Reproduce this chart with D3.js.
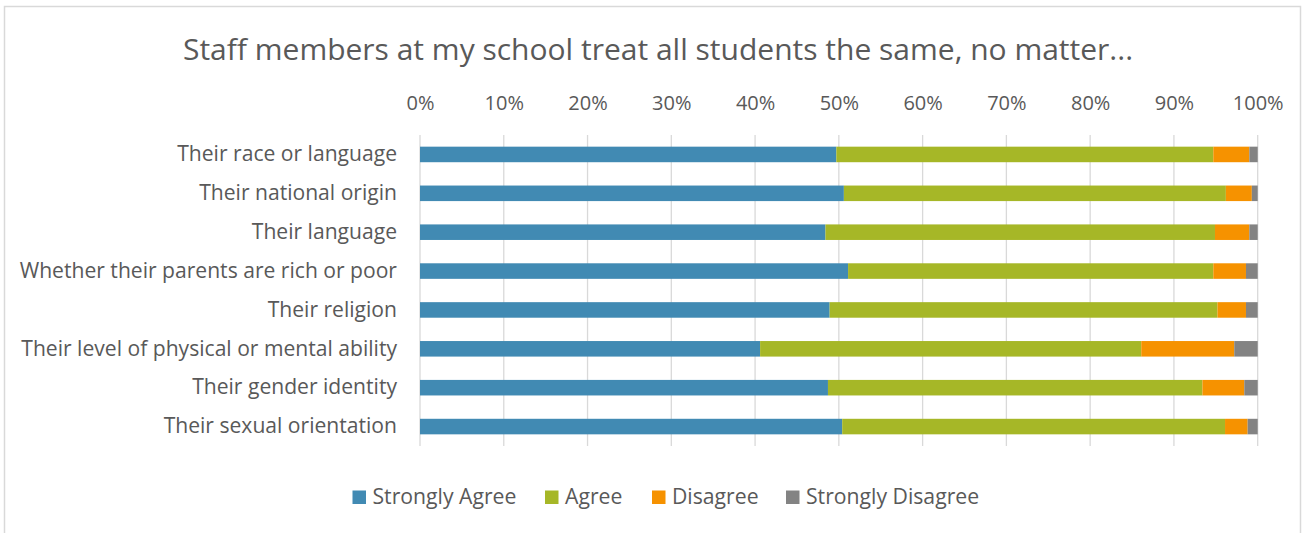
<!DOCTYPE html>
<html><head><meta charset="utf-8">
<script src="https://cdn.jsdelivr.net/npm/d3@7"></script>
<style>
html,body{margin:0;padding:0;background:#fff;}
text{font-family:"Open Sans",sans-serif;fill:#595959;}
</style></head>
<body><svg id="c" width="1305" height="533"></svg>
<script>
const categories = ["Their race or language","Their national origin","Their language","Whether their parents are rich or poor","Their religion","Their level of physical or mental ability","Their gender identity","Their sexual orientation"];
const seriesNames = ["Strongly Agree","Agree","Disagree","Strongly Disagree"];
const stronglyAgree = [49.7,50.6,48.4,51.1,48.9,40.6,48.7,50.4];
const agree = [45.0,45.6,46.5,43.6,46.3,45.5,44.7,45.7];
const disagree = [4.3,3.1,4.1,3.9,3.4,11.1,5.0,2.7];
const stronglyDisagree = [1.0,0.7,1.0,1.4,1.4,2.8,1.6,1.2];
const colors = ["#418AB3","#A6B727","#F69200","#838383"];
const tickValues = [0,10,20,30,40,50,60,70,80,90,100];
const title = "Staff members at my school treat all students the same, no matter...";

const svg = d3.select("#c");
svg.append("rect").attr("x",4.5).attr("y",6.5).attr("width",1296).attr("height",540).attr("fill","none").attr("stroke","#d9d9d9").attr("stroke-width",1.5);

const x = d3.scaleLinear().domain([0,100]).range([420,1257.7]);
const y = d3.scaleBand().domain(categories).range([135,446]).paddingInner(0.6).paddingOuter(0.3);

svg.append("text").attr("x",658).attr("y",60).attr("text-anchor","middle").style("font-size","30px").text(title);

const gx = svg.append("g").attr("transform","translate(0,135)")
  .call(d3.axisTop(x).tickValues(tickValues).tickFormat(d=>d+"%").tickSize(0).tickPadding(25));
gx.select(".domain").remove();
gx.selectAll("text").style("font-size","20px").attr("fill","#595959");

svg.append("g").selectAll("line").data(tickValues).join("line")
  .attr("x1",d=>x(d)).attr("x2",d=>x(d)).attr("y1",135).attr("y2",446)
  .attr("stroke","#d9d9d9").attr("stroke-width",1.3);

const data = categories.map((c,i)=>({cat:c,"Strongly Agree":stronglyAgree[i],"Agree":agree[i],"Disagree":disagree[i],"Strongly Disagree":stronglyDisagree[i]}));
const stack = d3.stack().keys(seriesNames)(data);
svg.append("g").selectAll("g").data(stack).join("g").attr("fill",(d,i)=>colors[i])
  .selectAll("rect").data(d=>d).join("rect")
  .attr("x",d=>x(d[0])).attr("width",d=>x(d[1])-x(d[0]))
  .attr("y",d=>y(d.data.cat)).attr("height",y.bandwidth());

const gy = svg.append("g").attr("transform","translate(420,0)")
  .call(d3.axisLeft(y).tickSize(0).tickPadding(23));
gy.select(".domain").remove();
gy.selectAll("text").style("font-size","21.1px").attr("fill","#595959");

const leg = svg.append("g");
const legX = [352.5,545,652,786];
seriesNames.forEach((s,i)=>{
  const g = leg.append("g").attr("transform",`translate(${legX[i]},490.5)`);
  g.append("rect").attr("width",13.5).attr("height",13.5).attr("fill",colors[i]);
  g.append("text").attr("x",20).attr("y",13.5).style("font-size","21.2px").text(s);
});
</script></body></html>
